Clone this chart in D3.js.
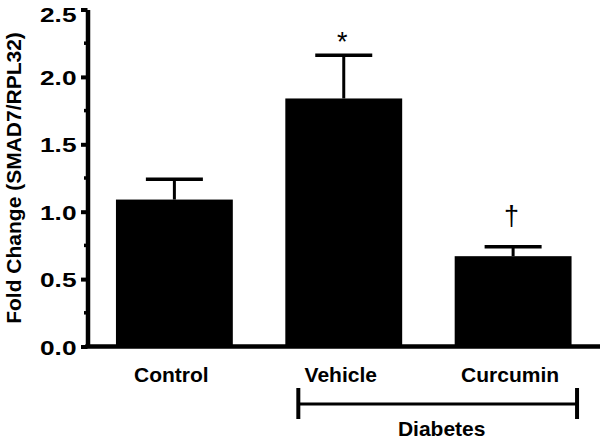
<!DOCTYPE html>
<html>
<head>
<meta charset="utf-8">
<script src="https://cdn.jsdelivr.net/npm/d3@7"></script>
<style>
  body { margin: 0; background: #fff; }
  svg { display: block; font-family: "Liberation Sans", Arial, Helvetica, sans-serif; }
</style>
</head>
<body>
<svg width="600" height="441"></svg>
<script>
// values
var categories = ["Control", "Vehicle", "Curcumin"];
var means = [1.09, 1.84, 0.67];
var errors = [0.15, 0.32, 0.07];
var marks = ["", "*", "\u2020"];
var yTicks = [0, 0.5, 1.0, 1.5, 2.0, 2.5];
var yMinorTicks = [0.25, 0.75, 1.25, 1.75, 2.25];
var groupName = "Diabetes";
var groupMembers = ["Vehicle", "Curcumin"];
var yTitle = "Fold Change (SMAD7/RPL32)";

var svg = d3.select("svg");

var x0 = 87.5, y0 = 346.5;

var x = d3.scaleBand()
    .domain(categories)
    .range([x0, 600])
    .paddingInner(0.31)
    .paddingOuter(0.168);

var y = d3.scaleLinear()
    .domain([0, 2.5])
    .range([y0, 9.5]);

var data = categories.map(function(c, i) {
  return {cat: c, mean: means[i], err: errors[i], mark: marks[i]};
});

// bars
svg.append("g")
  .selectAll("rect")
  .data(data)
  .enter()
  .append("rect")
    .attr("x", function(d){ return x(d.cat) })
    .attr("y", function(d){ return y(d.mean) })
    .attr("width", x.bandwidth())
    .attr("height", function(d){ return y0 - y(d.mean) })
    .attr("fill", "#000");

// error bars (upper only)
var eb = svg.append("g").attr("stroke", "#000");
eb.selectAll("line.stem")
  .data(data)
  .enter()
  .append("line")
    .attr("class", "stem")
    .attr("x1", function(d){ return x(d.cat) + x.bandwidth()/2 })
    .attr("x2", function(d){ return x(d.cat) + x.bandwidth()/2 })
    .attr("y1", function(d){ return y(d.mean) })
    .attr("y2", function(d){ return y(d.mean + d.err) })
    .attr("stroke-width", 3);
eb.selectAll("line.cap")
  .data(data)
  .enter()
  .append("line")
    .attr("class", "cap")
    .attr("x1", function(d){ return x(d.cat) + x.bandwidth()/2 - 28.5 })
    .attr("x2", function(d){ return x(d.cat) + x.bandwidth()/2 + 28.5 })
    .attr("y1", function(d){ return y(d.mean + d.err) })
    .attr("y2", function(d){ return y(d.mean + d.err) })
    .attr("stroke-width", 3.5);

// significance marks (asterisk sits high in the font, dagger does not)
svg.append("g")
  .selectAll("text")
  .data(data)
  .enter()
  .append("text")
    .attr("x", function(d){ return x(d.cat) + x.bandwidth()/2 - 1.5 })
    .attr("y", function(d){ return y(d.mean + d.err) - (d.mark === "*" ? 4 : 22) })
    .attr("text-anchor", "middle")
    .attr("font-size", 27)
    .text(function(d){ return d.mark });

// y axis
var yAxis = svg.append("g")
    .attr("transform", "translate(" + x0 + ",0)")
    .call(d3.axisLeft(y).tickValues(yTicks).tickSize(6.5).tickSizeOuter(0)
      .tickPadding(11).tickFormat(d3.format(".1f")));
yAxis.select(".domain").attr("stroke-width", 4.5);
yAxis.selectAll(".tick line").attr("stroke-width", 4);
yAxis.selectAll(".tick text")
    .attr("font-size", 21)
    .attr("font-weight", "bold")
    .attr("font-family", "Liberation Sans, Arial, sans-serif")
    .attr("fill", "#000")
    .attr("dy", function(d){ return d === 2.5 ? "0.55em" : "0.36em" })
    .attr("transform", "scale(1.25,1)")
    .attr("x", -11 / 1.25);

// minor ticks
svg.append("g")
  .selectAll("line")
  .data(yMinorTicks)
  .enter()
  .append("line")
    .attr("x1", x0 - 3.5)
    .attr("x2", x0)
    .attr("y1", function(d){ return y(d) })
    .attr("y2", function(d){ return y(d) })
    .attr("stroke", "#000")
    .attr("stroke-width", 3.5);

// x axis baseline
svg.append("line")
    .attr("x1", x0 - 2.25)
    .attr("x2", 600)
    .attr("y1", y0)
    .attr("y2", y0)
    .attr("stroke", "#000")
    .attr("stroke-width", 4.5);

// category labels
svg.append("g")
  .selectAll("text")
  .data(categories)
  .enter()
  .append("text")
    .attr("x", function(d){ return x(d) + x.bandwidth()/2 - 3 })
    .attr("y", 382)
    .attr("text-anchor", "middle")
    .attr("font-size", 21)
    .attr("font-weight", "bold")
    .text(function(d){ return d });

// group bracket
var gx1 = x(groupMembers[0]) + 13;
var gx2 = x(groupMembers[groupMembers.length - 1]) + x.bandwidth() + 5.5;
var br = svg.append("g").attr("stroke", "#000");
br.append("line").attr("x1", gx1).attr("x2", gx2).attr("y1", 404).attr("y2", 404).attr("stroke-width", 3);
br.append("line").attr("x1", gx1).attr("x2", gx1).attr("y1", 388).attr("y2", 419).attr("stroke-width", 4);
br.append("line").attr("x1", gx2).attr("x2", gx2).attr("y1", 388).attr("y2", 419).attr("stroke-width", 4);
svg.append("text")
    .attr("x", (gx1 + gx2) / 2 + 4)
    .attr("y", 435.5)
    .attr("text-anchor", "middle")
    .attr("font-size", 21)
    .attr("font-weight", "bold")
    .text(groupName);

// y axis title
svg.append("text")
    .attr("transform", "translate(21," + (y0 + 9.5) / 2 + ") rotate(-90)")
    .attr("text-anchor", "middle")
    .attr("font-size", 21)
    .attr("font-weight", "bold")
    .text(yTitle);
</script>
</body>
</html>
